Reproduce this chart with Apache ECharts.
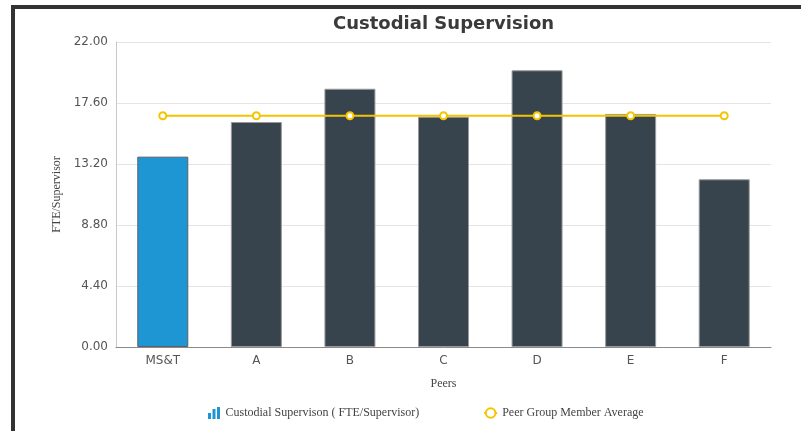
<!DOCTYPE html>
<html>
<head>
<meta charset="utf-8">
<script src="https://cdn.jsdelivr.net/npm/echarts@6/dist/echarts.min.js"></script>
<style>
html,body{margin:0;padding:0;background:#fff;overflow:hidden;}
#frame{position:absolute;left:11px;top:5px;width:800px;height:440px;border-left:4px solid #333;border-top:4px solid #333;box-sizing:border-box;}
#main{position:absolute;left:0;top:0;width:801px;height:431px;}
</style>
</head>
<body>
<div id="frame"></div>
<div id="main"></div>
<script>
const categories = ['MS&T', 'A', 'B', 'C', 'D', 'E', 'F'];
const supervisionValues = [13.73, 16.23, 18.63, 16.61, 19.96, 16.81, 12.10];
const peerAverage = [16.68, 16.68, 16.68, 16.68, 16.68, 16.68, 16.68];
const yTicks = { min: 0, max: 22, interval: 4.4 };
const seriesNames = ['Custodial Supervison ( FTE/Supervisor)', 'Peer Group Member Average'];

const chart = echarts.init(document.getElementById('main'), null, { renderer: 'canvas' });
const serif = '"Liberation Serif", "DejaVu Serif", serif';
const sans = '"DejaVu Sans", sans-serif';
const barIcon = 'path://M0,6 L3,6 L3,12 L0,12 Z M4.5,2 L7.5,2 L7.5,12 L4.5,12 Z M9,0 L12,0 L12,12 L9,12 Z';

chart.setOption({
  backgroundColor: 'transparent',
  animation: false,
  title: {
    text: 'Custodial Supervision',
    left: 328, top: 10,
    textStyle: { fontFamily: sans, fontWeight: 'bold', fontSize: 18, color: '#3a3a3a' }
  },
  grid: { left: 116, right: 30, top: 42, bottom: 84, containLabel: false },
  legend: {
    left: 203, top: 402, itemGap: 64, itemWidth: 13, itemHeight: 12,
    textStyle: { fontFamily: serif, fontSize: 12, color: '#444' },
    data: [
      { name: seriesNames[0], icon: barIcon, itemStyle: { color: '#1e96d4', borderWidth: 0 } },
      { name: seriesNames[1] }
    ]
  },
  xAxis: {
    type: 'category', data: categories,
    name: 'Peers', nameLocation: 'middle', nameGap: 31,
    nameTextStyle: { fontFamily: serif, fontSize: 12, color: '#444' },
    axisLine: { lineStyle: { color: '#8a8a8a' } },
    axisTick: { show: false },
    axisLabel: { fontFamily: sans, fontSize: 12, color: '#555', margin: 8 }
  },
  yAxis: {
    type: 'value', min: yTicks.min, max: yTicks.max, interval: yTicks.interval,
    name: 'FTE/Supervisor', nameLocation: 'middle', nameGap: 46,
    nameTextStyle: { fontFamily: serif, fontSize: 12, color: '#444' },
    axisLine: { show: true, lineStyle: { color: '#c8c8c8' } },
    axisTick: { show: false },
    axisLabel: { fontFamily: sans, fontSize: 12, color: '#555', margin: 8, formatter: v => v.toFixed(2) },
    splitLine: { lineStyle: { color: '#e4e4e4' } }
  },
  series: [
    {
      name: seriesNames[0], type: 'bar', barWidth: 51,
      data: supervisionValues.map((v, i) => ({
        value: v,
        itemStyle: i === 0 ? { color: '#1e96d4', borderColor: '#5a6066', borderWidth: 1 }
                           : { color: '#37444d', borderColor: '#9a9a9a', borderWidth: 1 }
      })),
      itemStyle: { color: '#37444d' }
    },
    {
      name: seriesNames[1], type: 'line', data: peerAverage,
      symbol: 'emptyCircle', symbolSize: 7,
      lineStyle: { color: '#f5c400', width: 2 },
      itemStyle: { color: '#f5c400', borderColor: '#f5c400', borderWidth: 1.5 },
      z: 5
    }
  ]
});
</script>
</body>
</html>
